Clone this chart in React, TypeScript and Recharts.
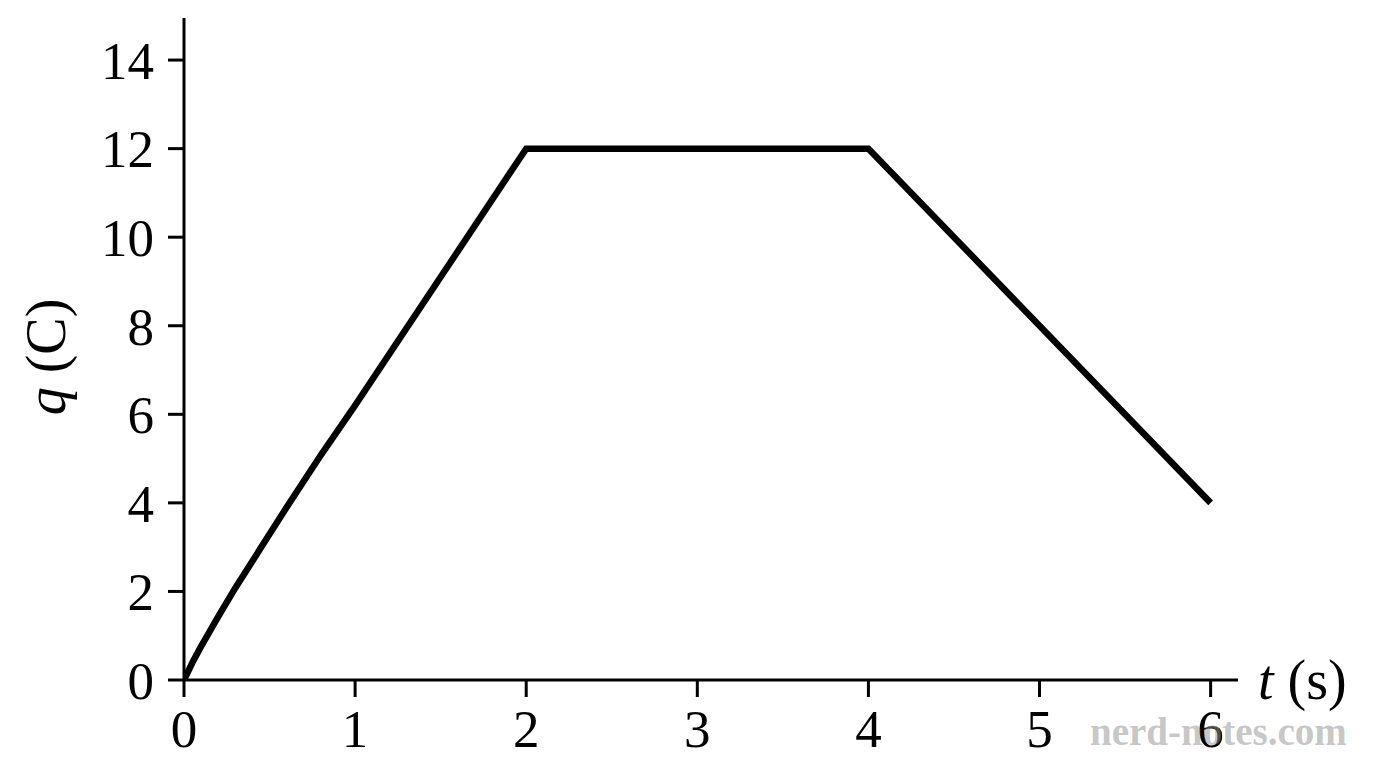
import { LineChart, Line, XAxis, YAxis } from 'recharts';

// time in seconds
const TIMES = [0, 0.05, 0.1, 0.2, 0.3, 0.45, 0.6, 0.8, 1, 1.5, 2, 3, 4, 5, 6];
// charge in coulombs
const CHARGE = [0, 0.4, 0.76, 1.43, 2.08, 2.99, 3.9, 5.08, 6.2, 9.1, 12, 12, 12, 8, 4];

const X_TICKS = [0, 1, 2, 3, 4, 5, 6];
const Y_TICKS = [0, 2, 4, 6, 8, 10, 12, 14];

const data = TIMES.map((t, i) => ({ t, q: CHARGE[i] }));

const FONT = '"Liberation Serif", "DejaVu Serif", serif';
const tickStyle = { fontSize: 53, fill: '#000', fontFamily: FONT };

export default function App() {
  return (
    <div style={{ position: 'absolute', left: 0, top: 0, width: 1376, height: 768, background: '#fff' }}>
      <LineChart
        width={1376}
        height={768}
        data={data}
        margin={{ top: 18, right: 138, bottom: 58, left: 94 }}
      >
        <XAxis
          dataKey="t"
          type="number"
          domain={[0, 6.16]}
          ticks={X_TICKS}
          allowDataOverflow
          height={30}
          tick={tickStyle}
          tickSize={17}
          tickMargin={12}
          axisLine={{ stroke: '#000', strokeWidth: 3 }}
          tickLine={{ stroke: '#000', strokeWidth: 3 }}
        />
        <YAxis
          type="number"
          domain={[0, 14.95]}
          ticks={Y_TICKS}
          allowDataOverflow
          width={90}
          tick={tickStyle}
          tickSize={16}
          tickMargin={14}
          axisLine={{ stroke: '#000', strokeWidth: 3 }}
          tickLine={{ stroke: '#000', strokeWidth: 3 }}
        />
        <Line
          type="linear"
          dataKey="q"
          stroke="#000"
          strokeWidth={6.5}
          strokeLinejoin="miter"
          dot={false}
          isAnimationActive={false}
        />
      </LineChart>
      <div
        style={{
          position: 'absolute',
          left: 46,
          top: 357,
          transform: 'translate(-50%, -50%) rotate(-90deg)',
          fontFamily: FONT,
          fontSize: 56,
          whiteSpace: 'nowrap',
          lineHeight: 1,
        }}
      >
        <i>q</i> (C)
      </div>
      <div
        style={{
          position: 'absolute',
          left: 1258,
          top: 652,
          fontFamily: FONT,
          fontSize: 56,
          whiteSpace: 'nowrap',
          lineHeight: 1,
        }}
      >
        <i>t</i> (s)
      </div>
      <div
        style={{
          position: 'absolute',
          left: 1090,
          top: 712,
          fontFamily: FONT,
          fontSize: 39,
          fontWeight: 'bold',
          color: 'rgba(150,150,150,0.55)',
          whiteSpace: 'nowrap',
          lineHeight: 1,
        }}
      >
        nerd-notes.com
      </div>
    </div>
  );
}
